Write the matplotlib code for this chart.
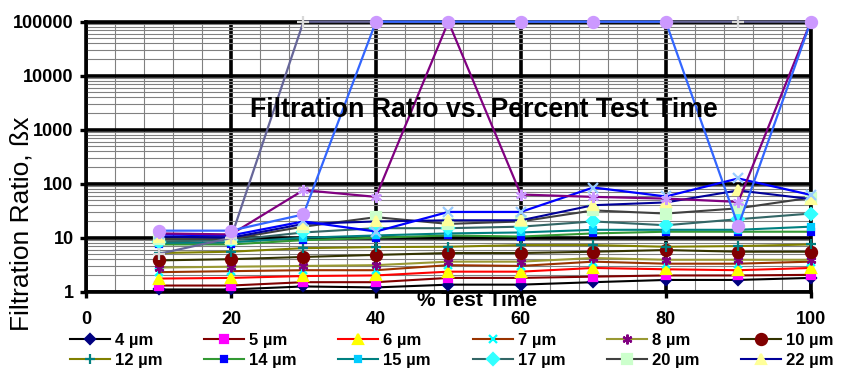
import matplotlib
matplotlib.use("Agg")
from matplotlib import pyplot as plt
from matplotlib import font_manager
import matplotlib.ticker as ticker

# percent of test time
pct = [10, 20, 30, 40, 50, 60, 70, 80, 90, 100]

# filtration ratio per particle size
b4 = [1.1, 1.1, 1.25, 1.2, 1.35, 1.35, 1.5, 1.65, 1.65, 1.8]
b5 = [1.3, 1.3, 1.5, 1.5, 1.8, 1.8, 1.9, 2.0, 2.0, 2.05]
b6 = [1.75, 1.8, 1.95, 2.0, 2.35, 2.35, 2.75, 2.6, 2.5, 2.75]
b7 = [2.3, 2.4, 2.5, 2.5, 3.1, 3.0, 3.6, 3.3, 3.3, 3.6]
b8 = [2.8, 2.9, 3.0, 3.1, 3.6, 3.6, 4.2, 3.9, 3.9, 3.9]
b10 = [3.8, 4.0, 4.4, 4.8, 5.2, 5.2, 5.5, 5.9, 5.5, 5.5]
b12 = [5.2, 5.5, 6.4, 6.7, 6.8, 7.3, 7.3, 6.8, 7.0, 7.5]
b14 = [7.5, 7.5, 9.0, 10, 11, 10.5, 12, 12.9, 12.9, 12.9]
b15 = [8.0, 8.2, 10, 11, 12, 12.5, 14, 14, 14, 16]
b17 = [8.5, 9.0, 12.5, 15, 15, 16, 20, 17, 22, 28]
b20 = [9.5, 9.5, 16, 24, 18, 20, 32, 28, 35, 55]
b22 = [10.5, 10, 18, 20, 21, 21, 40, 45, 75, 52]
# series plotted but not listed in the legend
h1 = [11.5, 11, 20, 13, 30, 30, 85, 58, 125, 62]
h2 = [12, 11.5, 76, 57, 100000, 63, 57, 53, 46, 100000]
h3 = [5.0, 9.9, 100000, 100000, 100000, 100000, 100000, 100000, 100000, 100000]
h4 = [13.5, 13.5, 27, 100000, 100000, 100000, 100000, 100000, 16.5, 100000]

labels = ["4 µm", "5 µm", "6 µm", "7 µm", "8 µm", "10 µm",
          "12 µm", "14 µm", "15 µm", "17 µm", "20 µm", "22 µm"]
values = [b4, b5, b6, b7, b8, b10, b12, b14, b15, b17, b20, b22]
hidden = [h1, h2, h3, h4]

star = (6, 2, 0)
# (line colour, marker, marker colour, marker size)
styles = [
    ("#000000", "D", "#000080", 5),
    ("#800000", "s", "#FF00FF", 6),
    ("#FF0000", "^", "#FFFF00", 7),
    ("#993300", "x", "#00FFFF", 6),
    ("#999933", star, "#800080", 7),
    ("#333300", "o", "#800000", 8),
    ("#808000", "+", "#008080", 7),
    ("#339933", "s", "#0000FF", 4),
    ("#008080", "s", "#00CCFF", 5),
    ("#336666", "D", "#33FFFF", 6),
    ("#404040", "s", "#CCFFCC", 7),
    ("#000099", "^", "#FFFF99", 7),
]
hidden_styles = [
    ("#0000FF", "x", "#99CCFF", 7),
    ("#800080", star, "#CC99FF", 8),
    ("#666699", "+", "#D8D8D8", 8),
    ("#3366FF", "o", "#CC99FF", 8),
]

plt.rcParams['font.family'] = ['Liberation Sans', 'DejaVu Sans']
names = {f.name for f in font_manager.fontManager.ttflist}
narrow = 'Liberation Sans Narrow' in names
title_font = 'Liberation Sans Narrow' if narrow else 'Liberation Sans'
title_size = 22 if narrow else 19.3

fig = plt.figure(figsize=(8.41, 3.69), dpi=100)
ax = fig.add_axes([0.1023, 0.2095, 0.8617, 0.7317])

ax.set_yscale('log')
ax.set_ylim(1, 100000)
ax.set_xlim(0, 100)
ax.xaxis.set_major_locator(ticker.MultipleLocator(20))
ax.xaxis.set_minor_locator(ticker.MultipleLocator(4))
ax.yaxis.set_major_locator(ticker.LogLocator(base=10))
ax.yaxis.set_minor_locator(ticker.LogLocator(base=10, subs=range(2, 10)))
ax.yaxis.set_major_formatter(ticker.FuncFormatter(lambda v, p: f"{v:g}"))
ax.yaxis.set_minor_formatter(ticker.NullFormatter())

ax.grid(which='minor', color='#808080', lw=0.8)
ax.grid(which='major', color='black', lw=2.6)
ax.set_axisbelow(True)
for s in ax.spines.values():
    s.set_linewidth(2.6)
ax.tick_params(which='major', direction='out', length=4, width=2.4, labelsize=13)
ax.tick_params(which='minor', length=0)
ax.tick_params(axis='x', pad=10)
ax.tick_params(axis='y', pad=5)
for lab in ax.get_xticklabels() + ax.get_yticklabels():
    lab.set_fontweight('bold')

handles = []
for vals, (lc, m, mc, ms) in zip(values, styles):
    ln, = ax.plot(pct, vals, color=lc, lw=1.5, marker=m, ms=ms, mfc=mc, mec=mc,
                  mew=1.6, clip_on=False, zorder=3)
    handles.append(ln)
for vals, (lc, m, mc, ms) in zip(hidden, hidden_styles):
    ax.plot(pct, vals, color=lc, lw=1.6, marker=m, ms=ms, mfc=mc, mec=mc,
            mew=1.6, clip_on=False, zorder=3)

ax.text(0.5485, 0.647, "Filtration Ratio vs. Percent Test Time", transform=ax.transAxes,
        ha='center', va='baseline', fontsize=title_size, fontweight='bold',
        family=title_font, zorder=5)

fig.text(477 / 841, 1 - 300 / 369, "% Test Time", ha='center', va='center',
         fontsize=15, fontweight='bold')
fig.text(22 / 841, 1 - 224 / 369, "Filtration Ratio, ßx", rotation=90,
         ha='center', va='center', fontsize=19)

# legend is filled row by row
order = [0, 6, 1, 7, 2, 8, 3, 9, 4, 10, 5, 11]
fig.legend([handles[i] for i in order], [labels[i] for i in order], ncol=6,
           loc='upper left', bbox_to_anchor=(70 / 841, 0.097), frameon=False,
           prop={'size': 12, 'weight': 'bold'}, handlelength=2.4, handletextpad=0.3,
           columnspacing=2.5, labelspacing=0.28, borderpad=0, borderaxespad=0)

fig.savefig("out.png", dpi=100)
